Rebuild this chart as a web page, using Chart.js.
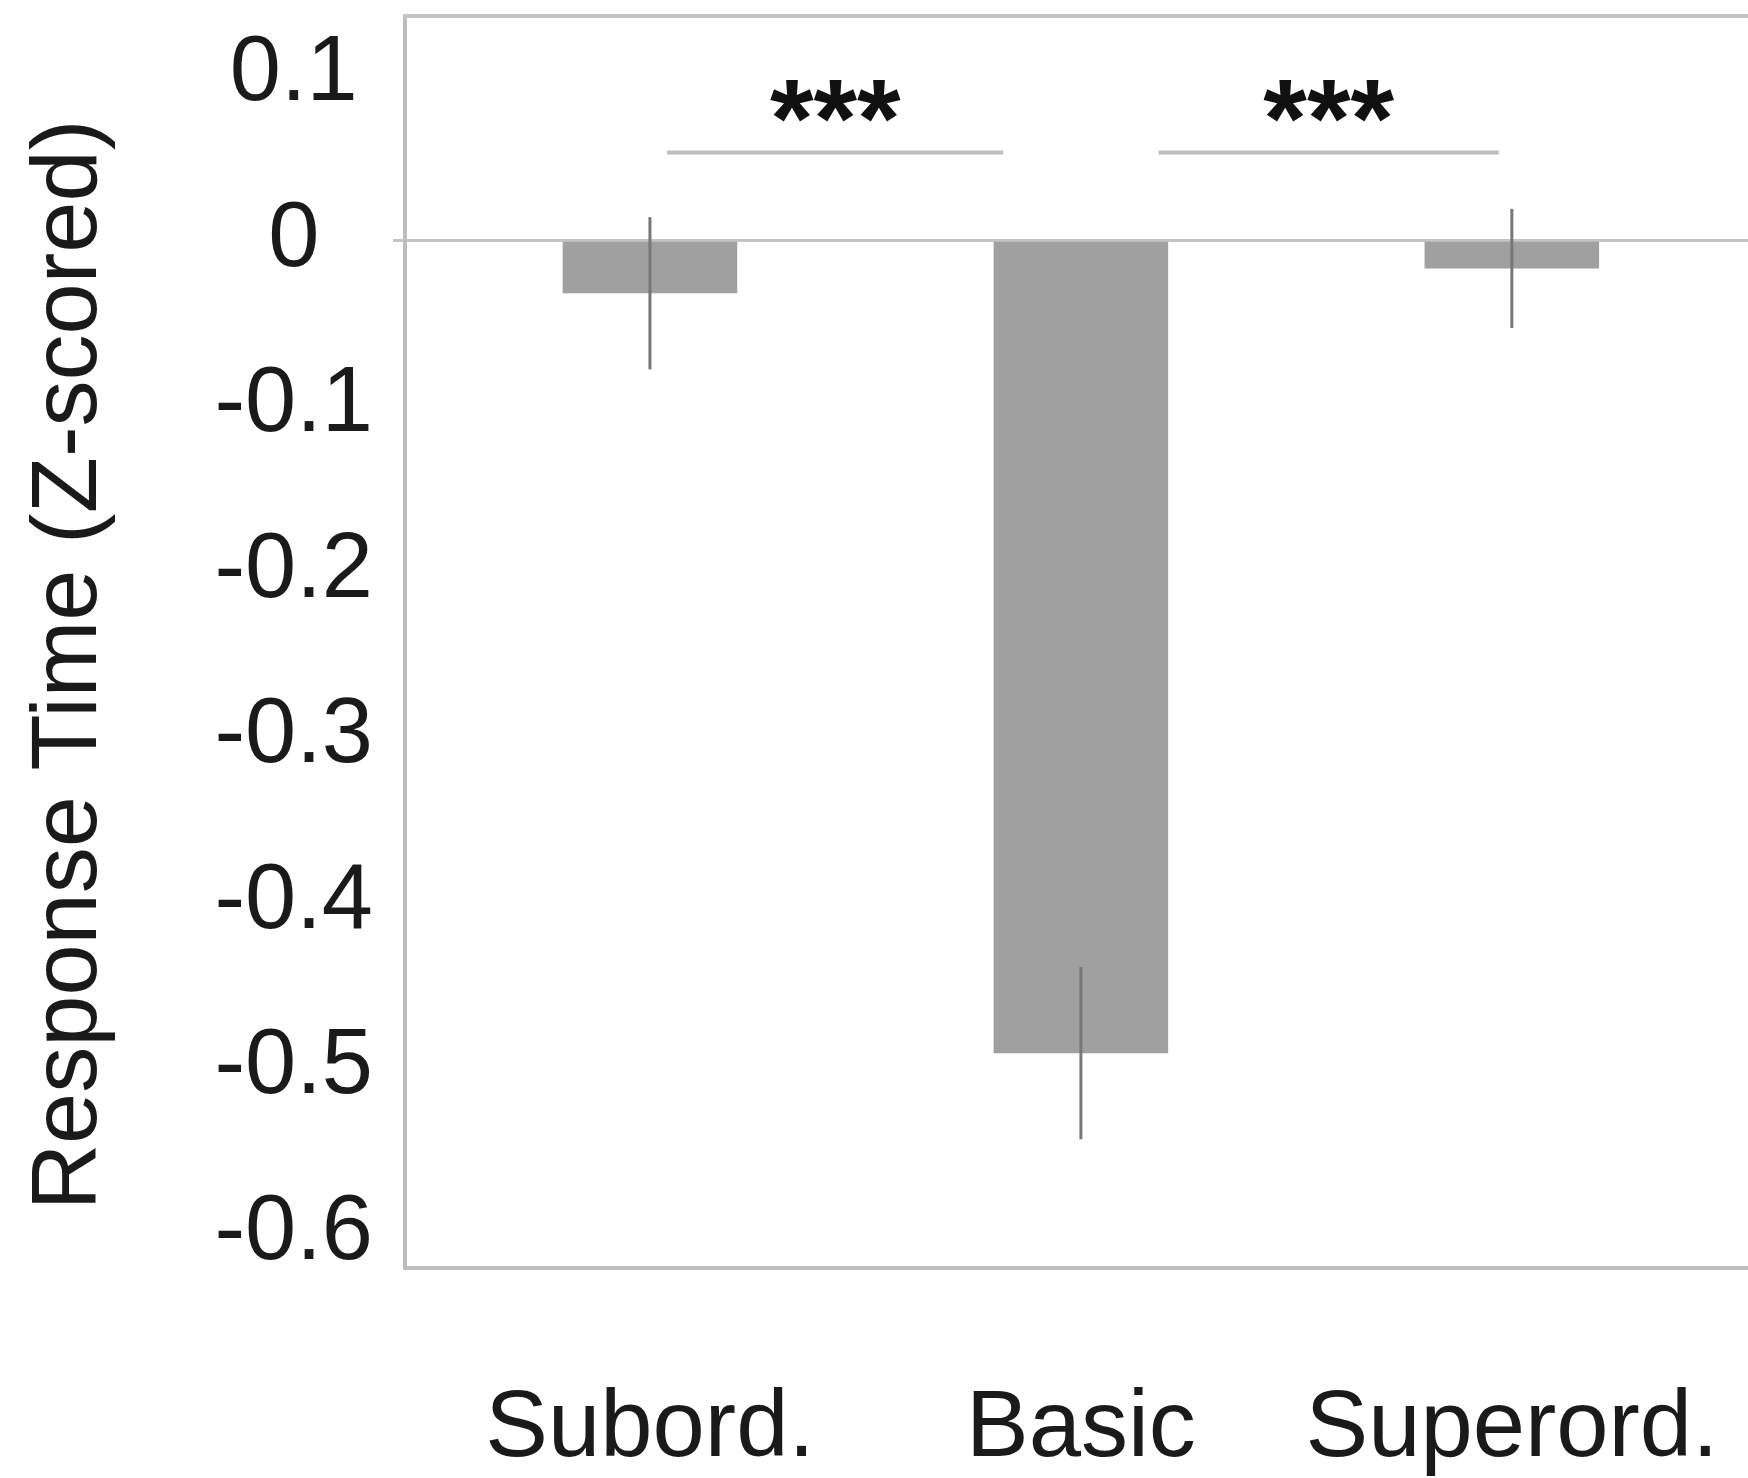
<!DOCTYPE html>
<html>
<head>
<meta charset="utf-8">
<script src="https://cdn.jsdelivr.net/npm/chart.js@4"></script>
<style>
  html, body { margin: 0; padding: 0; background: #fff; overflow: hidden; }
  #wrap { width: 1748px; height: 1478px; }
</style>
</head>
<body>
<div id="wrap"><canvas id="rtChart" width="1748" height="1478"></canvas></div>
<script>
// data
const categories = ['Subord.', 'Basic', 'Superord.'];
const meanRT = [-0.032, -0.491, -0.017];
const errRT = [0.046, 0.052, 0.036];
const yTicks = [0.1, 0, -0.1, -0.2, -0.3, -0.4, -0.5, -0.6];
const yTickLabels = ['0.1', '0', '-0.1', '-0.2', '-0.3', '-0.4', '-0.5', '-0.6'];

// significance brackets (x in category units, y in data units)
const sigFrom = [1.04, 2.18];
const sigTo = [1.82, 2.97];
const sigLabels = ['***', '***'];
const sigLineY = 0.053;
const sigStarY = 0.083;

const FONT = '"Liberation Sans", Arial, Helvetica, sans-serif';

const errorBars = {
    id: 'errorBars',
    afterDatasetsDraw(chart) {
        const { ctx, scales: { x, y } } = chart;
        ctx.save();
        ctx.strokeStyle = '#777777';
        ctx.lineWidth = 3;
        meanRT.forEach((m, i) => {
            const px = x.getPixelForValue(i + 1);
            ctx.beginPath();
            ctx.moveTo(px, y.getPixelForValue(m + errRT[i]));
            ctx.lineTo(px, y.getPixelForValue(m - errRT[i]));
            ctx.stroke();
        });
        ctx.restore();
    }
};

const sigMarks = {
    id: 'sigMarks',
    afterDraw(chart) {
        const { ctx, scales: { x, y } } = chart;
        ctx.save();
        ctx.strokeStyle = '#bdbdbd';
        ctx.lineWidth = 4;
        ctx.fillStyle = '#111';
        ctx.font = 'bold 112px ' + FONT;
        ctx.textAlign = 'center';
        ctx.textBaseline = 'alphabetic';
        sigFrom.forEach((f, i) => {
            const ly = y.getPixelForValue(sigLineY);
            ctx.beginPath();
            ctx.moveTo(x.getPixelForValue(f), ly);
            ctx.lineTo(x.getPixelForValue(sigTo[i]), ly);
            ctx.stroke();
            const cx = (x.getPixelForValue(f) + x.getPixelForValue(sigTo[i])) / 2;
            ctx.fillText(sigLabels[i], cx, y.getPixelForValue(sigStarY) + 54);
        });
        ctx.restore();
    }
};

// top edge of the box (left/bottom come from the axis borders)
const boxTop = {
    id: 'boxTop',
    afterDraw(chart) {
        const { ctx, chartArea } = chart;
        ctx.save();
        ctx.strokeStyle = '#c4c4c4';
        ctx.lineWidth = 4;
        ctx.beginPath();
        ctx.moveTo(chartArea.left - 2, chartArea.top);
        ctx.lineTo(chartArea.right, chartArea.top);
        ctx.stroke();
        ctx.restore();
    }
};

const canvas = document.getElementById('rtChart');
new Chart(canvas.getContext('2d'), {
    type: 'bar',
    data: {
        datasets: [{
            data: meanRT.map((v, i) => ({ x: i + 1, y: v })),
            backgroundColor: '#a0a0a0',
            borderWidth: 0,
            barPercentage: 0.405,
            categoryPercentage: 1
        }]
    },
    options: {
        responsive: false,
        animation: false,
        layout: { padding: { top: 16, right: 0, left: 0, bottom: 0 } },
        plugins: { legend: { display: false }, tooltip: { enabled: false } },
        scales: {
            x: {
                type: 'linear',
                offset: false,
                min: 0.4316,
                max: 3.548,
                afterBuildTicks: s => { s.ticks = categories.map((c, i) => ({ value: i + 1 })); },
                afterFit: s => { s.height = 210; s.paddingLeft = 0; s.paddingRight = 0; },
                grid: { display: false, drawTicks: false, offset: false },
                border: { display: true, color: '#bdbdbd', width: 4 },
                ticks: {
                    autoSkip: false,
                    maxRotation: 0,
                    padding: 106,
                    color: '#1a1a1a',
                    font: { family: FONT, size: 94 },
                    callback: v => categories[Math.round(v) - 1]
                }
            },
            y: {
                offset: false,
                min: -0.6208,
                max: 0.1355,
                afterBuildTicks: s => { s.ticks = yTicks.map(v => ({ value: v })); },
                afterFit: s => { s.width = 405; s.paddingTop = 0; s.paddingBottom = 0; },
                grid: {
                    drawOnChartArea: true,
                    drawTicks: true,
                    tickLength: 12,
                    lineWidth: 3,
                    color: c => (c.tick && c.tick.value === 0) ? '#c4c4c4' : 'rgba(0,0,0,0)'
                },
                border: { display: true, color: '#bdbdbd', width: 4 },
                ticks: {
                    padding: 20,
                    crossAlign: 'center',
                    color: '#1a1a1a',
                    font: { family: FONT, size: 92, lineHeight: 0.1 },
                    callback: (v, i) => yTickLabels[i]
                },
                title: {
                    display: true,
                    text: 'Response Time (Z-scored)\u2002',
                    color: '#1a1a1a',
                    font: { family: FONT, size: 92 },
                    padding: { top: 15, bottom: 0 }
                }
            }
        }
    },
    plugins: [errorBars, sigMarks, boxTop]
});
</script>
</body>
</html>
